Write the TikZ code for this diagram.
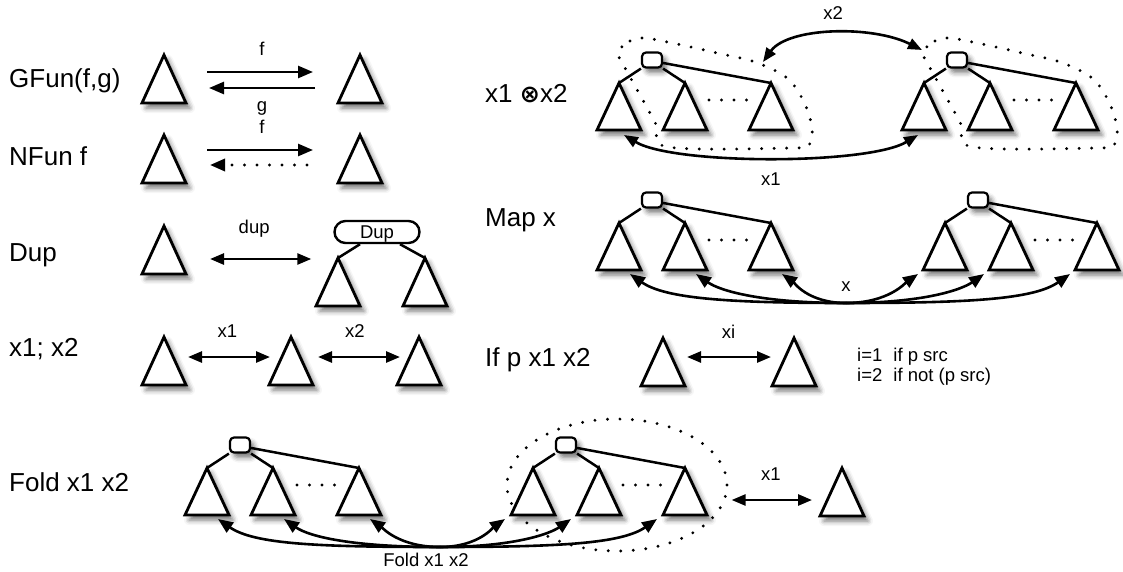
\documentclass[tikz,border=0pt]{standalone}
\usepackage{fontspec}
\setmainfont{Liberation Sans}
\newfontfamily\symfont{DejaVu Sans}
\usepackage{tikz}
\usetikzlibrary{arrows.meta,positioning,shapes.geometric,calc,shadows.blur}

\begin{document}
\begin{tikzpicture}[
  x=1pt, y=-1pt,
  oplabel/.style={font=\fontsize{26}{30}\selectfont, anchor=west, inner sep=0pt, text height=19pt, text depth=0pt},
  lbl/.style={font=\fontsize{18.5}{20}\selectfont, inner sep=0pt, text height=13pt, text depth=0pt},
  soft/.style={blur shadow={shadow xshift=4pt, shadow yshift=-5pt, shadow blur radius=5pt, shadow opacity=55}},
  trishape/.style={draw, line width=2.8pt, fill=white, soft},
  rootbox/.style={draw, line width=2.2pt, fill=white, rounded corners=4pt, minimum width=20pt, minimum height=15pt, inner sep=0pt, soft},
  dupnode/.style={draw, line width=2.4pt, fill=white, rounded corners=11pt, minimum width=85pt, minimum height=22pt, inner sep=0pt, lbl},
  link/.style={line width=2.5pt},
  dotline/.style={line width=3.2pt, line cap=round, dash pattern=on 0pt off 12.5pt},
  arr/.style={line width=2.6pt, -{Triangle[length=15pt,width=12pt]}},
  darr/.style={line width=2.6pt, {Triangle[length=14pt,width=11pt]}-{Triangle[length=14pt,width=11pt]}},
  tri/.pic={
    \draw[trishape] (0,0) coordinate (-apex) -- (-22,48) coordinate (-bl) -- (22,48) coordinate (-br) -- cycle;
    \coordinate (-w) at (-11,24);
    \coordinate (-e) at (11,24);
  },
  tree/.pic={
    \node[rootbox] (-root) at (0,0) {};
    \foreach \k/\xx in {1/-33,2/33,3/119}
      \coordinate (-a\k) at (\xx,23);
    \draw[link] (-root.south west) -- (-a1);
    \draw[link] (-root.south east) -- (-a2);
    \draw[link] (-root.-15) -- (-a3);
    \foreach \k in {1,2,3}
      \draw[trishape] (-a\k) -- ++(-22,47) coordinate (-l\k) -- ++(44,0) coordinate (-r\k) -- cycle;
    \draw[dotline] (57,40) -- (97,40);
  },
  hull/.pic={
    \draw[dotline] plot[smooth cycle, tension=0.55] coordinates {(-34,-8) (-22,-19) (-8,-22) (25,-16) (65,-7) (103,2) (135,18) (152,42) (160,68) (157,85) (140,88) (16,87) (3,62) (-28,6)};
    \coordinate (-nw) at (-35,-10);
    \coordinate (-ne) at (111,2);
  }
]
\useasboundingbox (0,0) rectangle (1123,572);

% GFun
\node[oplabel] (gfun) at (9,78) {GFun(f,g)};
\pic (ga) at (164,55) {tri};
\pic (gb) at (360,55) {tri};
\draw[arr, shorten <=32pt, shorten >=36pt] ([yshift=7pt]ga-e) -- node[lbl, above=15pt] (gf) {f} ([yshift=7pt]gb-w);
\draw[arr, shorten <=34pt, shorten >=34pt] ([yshift=-9pt]gb-w) -- node[lbl, below=9pt] (gg) {g} ([yshift=-9pt]ga-e);

% NFun
\node[oplabel] (nfun) at (9,156) {NFun f};
\pic (na) at (164,135) {tri};
\pic (nb) at (360,135) {tri};
\draw[arr, shorten <=32pt, shorten >=36pt] ([yshift=9pt]na-e) -- node[lbl, above=15pt] (nf) {f} ([yshift=9pt]nb-w);
\draw[arr, dotline, shorten <=42pt, shorten >=35pt] ([yshift=-6pt]nb-w) -- ([yshift=-6pt]na-e);

% Dup
\node[oplabel] (dup) at (9,252) {Dup};
\pic (da) at (164,226) {tri};
\node[dupnode] (dupbox) at (377,232) {Dup};
\draw[link] ([xshift=-17pt]dupbox.south) -- (338,258) coordinate (dlt);
\draw[link] ([xshift=23pt]dupbox.south) -- (425,258) coordinate (drt);
\pic (dl) at (dlt) {tri};
\pic (dr) at (drt) {tri};
\draw[darr, shorten <=35pt, shorten >=22pt] ([yshift=-9pt]da-e) -- node[lbl, above=24pt] (dupl) {dup} ($(da-e -| dupbox.west)+(0,9)$);

% x1; x2
\node[oplabel] (seq) at (9,347) {x1; x2};
\pic (sa) at (164,337) {tri};
\pic (sb) at (291,337) {tri};
\pic (sc) at (419,337) {tri};
\draw[darr, shorten <=13pt, shorten >=10pt] ([yshift=4pt]sa-e) -- node[lbl, above=18pt] (sx1) {x1} ([yshift=4pt]sb-w);
\draw[darr, shorten <=16pt, shorten >=8pt] ([yshift=4pt]sb-e) -- node[lbl, above=18pt] (sx2) {x2} ([yshift=4pt]sc-w);

% x1 (x) x2
\node[oplabel] (prod) at (485,93) {x1 {\symfont\bfseries\fontsize{24}{28}\selectfont ⊗}x2};
\pic (pa) at (652,60) {tree};
\pic (pb) at (957,60) {tree};
\pic (ha) at (652,60) {hull};
\pic (hb) at (957,60) {hull};
\draw[darr] (ha-ne) .. controls +(25,-35) and +(-50,-25) .. node[lbl, above=13pt] (px2) {x2} (hb-nw);
\draw[darr] ([xshift=-17pt,yshift=-5pt]pa-r1) .. controls +(50,30) and +(-50,30) .. node[lbl, below=14pt] (px1) {x1} ([xshift=16pt,yshift=-5pt]pb-l1);

% Map x
\node[oplabel] (map) at (485,217) {Map x};
\pic (ma) at (652,200) {tree};
\pic (mb) at (978,200) {tree};
\coordinate (mhub) at (846,303);
\node[lbl, above=11pt of mhub] (mx) {x};
\foreach \k in {1,2,3}{
  \draw[arr] (mhub) to[out=180, in=-35, out looseness=1.4, in looseness=0.5] ([xshift=-11pt,yshift=-4pt]ma-r\k);
  \draw[arr] (mhub) to[out=0, in=-145, out looseness=1.4, in looseness=0.5] ([xshift=-5pt,yshift=-4pt]mb-l\k);
}

% If p x1 x2
\node[oplabel] (ifp) at (485,357) {If p x1 x2};
\pic (ia) at (663,338) {tri};
\pic (ib) at (794,338) {tri};
\draw[darr, shorten <=13pt, shorten >=12pt] ([yshift=5pt]ia-e) -- node[lbl, above=17pt] (ixi) {xi} ([yshift=5pt]ib-w);
\node[lbl, anchor=base west] (cond1) at (857,361) {i=1\hspace{11pt}if p src};
\node[lbl, anchor=base west] (cond2) at (857,381) {i=2\hspace{11pt}if not (p src)};

% Fold x1 x2
\node[oplabel] (fold) at (9,482) {Fold x1 x2};
\node[draw, dotline, ellipse, minimum width=220pt, minimum height=132pt, inner sep=0pt] (fe) at (617,485) {};
\pic (fa) at (240,445) {tree};
\pic (fb) at (566,445) {tree};
\pic (fx) at (842,468) {tri};
\coordinate (fhub) at (440,547);
\node[lbl, below=6pt of fhub, xshift=-14pt] (fhubl) {Fold x1 x2};
\foreach \k in {1,2,3}{
  \draw[arr] (fhub) to[out=180, in=-35, out looseness=1.4, in looseness=0.5] ([xshift=-11pt,yshift=-4pt]fa-r\k);
  \draw[arr] (fhub) to[out=0, in=-145, out looseness=1.4, in looseness=0.5] ([xshift=-6pt,yshift=-4pt]fb-l\k);
}
\draw[darr, shorten <=3pt, shorten >=19pt] ([yshift=-15pt]fe.east) -- node[lbl, above=18pt, xshift=-9pt] (fx1) {x1} ([yshift=-8pt]fx-w);
\end{tikzpicture}
\end{document}
